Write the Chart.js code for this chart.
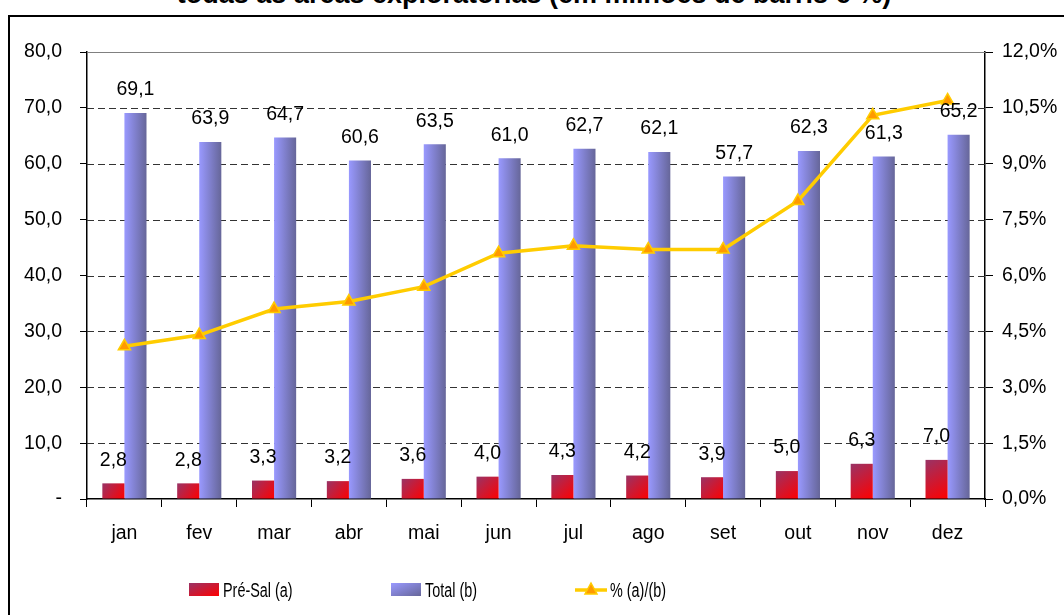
<!DOCTYPE html>
<html>
<head>
<meta charset="utf-8">
<script src="https://cdn.jsdelivr.net/npm/chart.js@4/dist/chart.umd.min.js"></script>
<style>
    html, body { margin: 0; padding: 0; background: #fff; }
    #wrap  { position: relative; width: 1064px; height: 615px; overflow: hidden; font-family: "Liberation Sans", Arial, sans-serif; }
    #title { position: absolute; left: 0; top: -19px; width: 1068px; text-align: center; font: bold 27px/27px "Liberation Sans", Arial, sans-serif; white-space: nowrap; }
    #frame { position: absolute; left: 8px; top: 15px; width: 1100px; height: 700px; border: 2px solid #000; box-sizing: border-box; }
    #chart { position: absolute; left: 0; top: 0; }
    .lg    { position: absolute; top: 579px; height: 22px; }
    .sw    { position: absolute; width: 30px; height: 13px; top: 4px; left: 0; }
    .lg span.t {
        position: absolute; left: 34px; top: 0; white-space: nowrap;
        font: 20px/22px "Liberation Sans", Arial, sans-serif; color: #000;
        transform: scaleX(0.72); transform-origin: left center;
    }
</style>
</head>
<body>
<div id="wrap">
    <div id="title">todas as áreas exploratórias (em milhões de barris e %)</div>
    <div id="frame"></div>
    <canvas id="chart" width="1064" height="615"></canvas>

    <!-- legend, laid out like the Excel original -->
    <div class="lg" style="left:189px">
        <div class="sw" style="background:linear-gradient(to bottom right,#993366,#ff0000)"></div>
        <span class="t">Pré-Sal (a)</span>
    </div>
    <div class="lg" style="left:391px">
        <div class="sw" style="background:linear-gradient(to bottom right,#9999ff,#666699)"></div>
        <span class="t">Total (b)</span>
    </div>
    <div class="lg" style="left:575px">
        <svg width="34" height="22" style="position:absolute;left:0;top:0">
            <line x1="0" y1="11" x2="32" y2="11" stroke="#ffcc00" stroke-width="3.5"/>
            <polygon points="16,4 22,15 10,15" fill="#ff9900" stroke="#ffcc00" stroke-width="1.5"/>
        </svg>
        <span class="t" style="left:35px">% (a)/(b)</span>
    </div>
</div>

<script>
// ─── DATA ────────────────────────────────────────────────────────────────────
const months   = ['jan', 'fev', 'mar', 'abr', 'mai', 'jun', 'jul', 'ago', 'set', 'out', 'nov', 'dez'];
const preSal   = [2.8, 2.8, 3.3, 3.2, 3.6, 4.0, 4.3, 4.2, 3.9, 5.0, 6.3, 7.0];
const total    = [69.1, 63.9, 64.7, 60.6, 63.5, 61.0, 62.7, 62.1, 57.7, 62.3, 61.3, 65.2];
const ratioPct = [4.1, 4.4, 5.1, 5.3, 5.7, 6.6, 6.8, 6.7, 6.7, 8.0, 10.3, 10.7];

const leftTicks  = [0, 10, 20, 30, 40, 50, 60, 70, 80];
const rightTicks = [0, 1.5, 3, 4.5, 6, 7.5, 9, 10.5, 12];

const CAT_PCT = 0.59;
const FONT    = '"Liberation Sans", Arial, sans-serif';

const fmt = v => v.toFixed(1).replace('.', ',');

// ─── BAR GRADIENTS ───────────────────────────────────────────────────────────
// each bar gets its own gradient, built from the bar's pixel box
function barBox(context, side) {
    const chart = context.chart;
    const x = chart.scales.x, y = chart.scales.y;
    const cx   = x.getPixelForValue(context.dataIndex);
    const slot = (x.width / months.length) * CAT_PCT / 2;
    const left = side === 0 ? cx - slot : cx;
    return { left, right: left + slot, top: y.getPixelForValue(context.raw), bottom: y.bottom };
}

function preSalFill(context) {
    if (!context.chart.chartArea || context.type !== 'data') return '#cc1b4a';
    const b = barBox(context, 0);
    const g = context.chart.ctx.createLinearGradient(b.left, b.top, b.right, b.bottom);
    g.addColorStop(0, '#993366');
    g.addColorStop(1, '#ff0000');
    return g;
}

function totalFill(context) {
    if (!context.chart.chartArea || context.type !== 'data') return '#8080cc';
    const b = barBox(context, 1);
    const g = context.chart.ctx.createLinearGradient(b.left, 0, b.right, 0);
    g.addColorStop(0, '#9999ff');
    g.addColorStop(1, '#666699');
    return g;
}

// ─── DASHED GRID (Excel style: solid grey top line, dashed the rest) ─────────
const dashedGrid = {
    id: 'dashedGrid',
    beforeDatasetsDraw(chart) {
        const ctx = chart.ctx, area = chart.chartArea, y = chart.scales.y;
        ctx.save();
        ctx.lineWidth = 1;
        y.ticks.forEach(t => {
            if (t.value === 0) return;
            const py = Math.round(y.getPixelForValue(t.value)) + 0.5;
            if (t.value === leftTicks[leftTicks.length - 1]) {
                ctx.strokeStyle = '#808080';
                ctx.setLineDash([]);
            } else {
                ctx.strokeStyle = '#333';
                ctx.setLineDash([7, 4]);
            }
            ctx.beginPath();
            ctx.moveTo(area.left, py);
            ctx.lineTo(area.right, py);
            ctx.stroke();
        });
        ctx.restore();
    }
};

// ─── VALUE LABELS (bars only) ────────────────────────────────────────────────
const valueLabels = {
    id: 'valueLabels',
    afterDatasetsDraw(chart) {
        const ctx = chart.ctx;
        ctx.save();
        ctx.font = '19.5px ' + FONT;
        ctx.fillStyle = '#000';
        ctx.textAlign = 'center';
        ctx.textBaseline = 'middle';
        chart.data.datasets.forEach((ds, di) => {
            if (ds.type !== 'bar') return;
            chart.getDatasetMeta(di).data.forEach((el, i) => {
                ctx.fillText(fmt(ds.data[i]), el.x, el.y - 23);
            });
        });
        ctx.restore();
    }
};

// ─── CHART ───────────────────────────────────────────────────────────────────
new Chart(document.getElementById('chart'), {
    data: {
        labels: months,
        datasets: [
            {
                type: 'line',
                label: '% (a)/(b)',
                data: ratioPct,
                yAxisID: 'y1',
                order: 0,
                borderColor: '#ffcc00',
                borderWidth: 3.5,
                pointStyle: 'triangle',
                pointRadius: 7,
                pointBackgroundColor: '#ff9900',
                pointBorderColor: '#ffcc00',
                pointBorderWidth: 1.5,
                tension: 0
            },
            {
                type: 'bar',
                label: 'Pré-Sal (a)',
                data: preSal,
                yAxisID: 'y',
                order: 1,
                backgroundColor: preSalFill,
                categoryPercentage: CAT_PCT,
                barPercentage: 1
            },
            {
                type: 'bar',
                label: 'Total (b)',
                data: total,
                yAxisID: 'y',
                order: 1,
                backgroundColor: totalFill,
                categoryPercentage: CAT_PCT,
                barPercentage: 1
            }
        ]
    },
    options: {
        responsive: false,
        animation: false,
        layout: { padding: { top: 52, left: 0, right: 0, bottom: 0 } },
        plugins: {
            legend:  { display: false },
            tooltip: { enabled: false }
        },
        scales: {
            x: {
                offset: true,
                grid: {
                    offset: true,
                    drawOnChartArea: false,
                    tickLength: 8,
                    color: '#000'
                },
                border: { color: '#000', width: 1.5 },
                ticks: {
                    color: '#000',
                    padding: 15,
                    font: { family: FONT, size: 19.5 }
                },
                afterFit: s => { s.height = 116; }
            },
            y: {
                position: 'left',
                min: 0,
                max: 80,
                afterBuildTicks: s => { s.ticks = leftTicks.map(v => ({ value: v })); },
                grid: {
                    drawOnChartArea: false,
                    color: '#000',
                    tickLength: 7
                },
                border: { color: '#000', width: 1.5 },
                ticks: {
                    color: '#000',
                    padding: 18,
                    font: { family: FONT, size: 19.5 },
                    callback: v => v === 0 ? '-' : fmt(v)
                },
                afterFit: s => { s.width = 87; }
            },
            y1: {
                position: 'right',
                min: 0,
                max: 12,
                afterBuildTicks: s => { s.ticks = rightTicks.map(v => ({ value: v })); },
                grid: {
                    drawOnChartArea: false,
                    color: '#000',
                    tickLength: 8
                },
                border: { color: '#000', width: 1.5 },
                ticks: {
                    color: '#000',
                    padding: 9,
                    font: { family: FONT, size: 19.5 },
                    callback: v => fmt(v) + '%'
                },
                afterFit: s => { s.width = 79; }
            }
        }
    },
    plugins: [dashedGrid, valueLabels]
});
</script>
</body>
</html>
